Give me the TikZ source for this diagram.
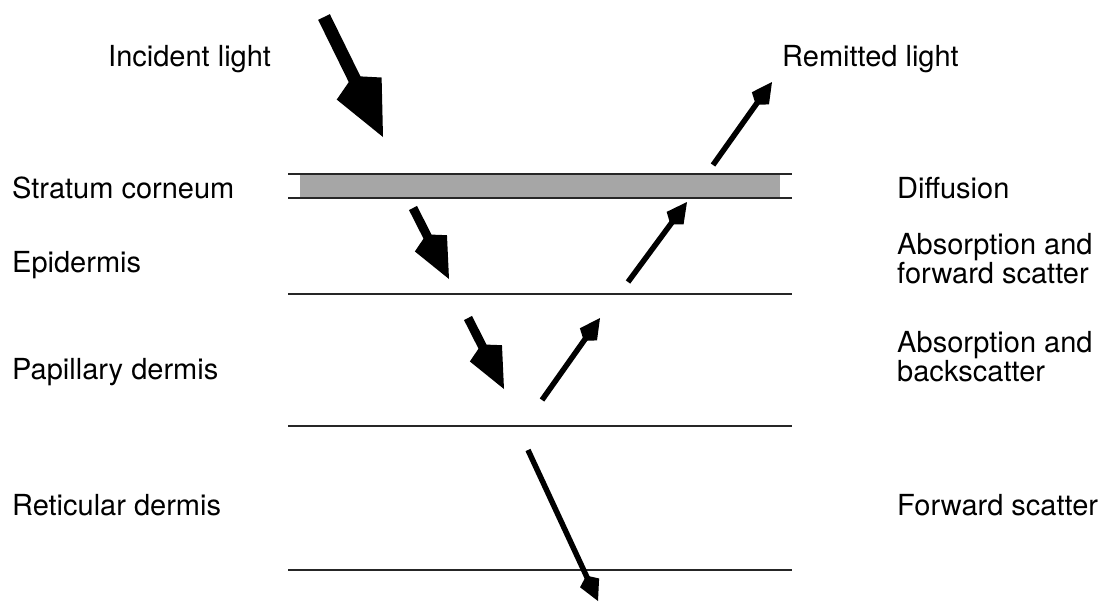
\documentclass[tikz,border=0pt]{standalone}
\usepackage{fontspec}
\setmainfont{TeX Gyre Heros}
\usetikzlibrary{arrows.meta}
\begin{document}
\begin{tikzpicture}[x=1pt, y=-1pt,
                    label_style/.style={anchor=base west, inner sep=0pt, align=left,
                                        font=\fontsize{29}{26}\selectfont},
                    layer_style/.style={draw=black!85, line width=2pt},
                    ray_big/.style={line width=13pt, -{Kite[length=68pt, width=50pt, inset=14pt]}},
                    ray_mid/.style={line width=9pt, -{Kite[length=50pt, width=36pt, inset=10pt]}},
                    ray_small/.style={line width=5.5pt, -{Kite[length=28pt, width=21pt, inset=8pt]}}]
                    \useasboundingbox (0,0) rectangle (1104,603);
                    % layer labels
                    \node[label_style] (incident) at (108, 66) {Incident light};
                    \node[label_style] (remitted) at (782, 66) {Remitted light};
                    \node[label_style] (corneum) at (12, 198) {Stratum corneum};
                    \node[label_style] (epidermis) at (12, 272) {Epidermis};
                    \node[label_style] (papillary) at (12, 379) {Papillary dermis};
                    \node[label_style] (reticular) at (12, 515) {Reticular dermis};
                    \node[label_style] (diffusion) at (897, 198) {Diffusion};
                    \node[label_style] (forward) at (897, 283) {Absorption and\\forward scatter};
                    \node[label_style] (back) at (897, 381) {Absorption and\\backscatter};
                    \node[label_style] (scatter) at (897, 515) {Forward scatter};
                    % layers
                    \node[fill=black!35, inner sep=0pt, minimum width=480pt, minimum height=23pt] (corneum_band) at (540, 186) {};
                    \coordinate (c1) at (288, 174);
                    \coordinate (c2) at (792, 174);
                    \coordinate (c3) at (288, 198);
                    \coordinate (c4) at (792, 198);
                    \coordinate (e1) at (288, 294);
                    \coordinate (e2) at (792, 294);
                    \coordinate (p1) at (288, 426);
                    \coordinate (p2) at (792, 426);
                    \coordinate (r1) at (288, 570);
                    \coordinate (r2) at (792, 570);
                    \draw[layer_style] (c1) -- (c2);
                    \draw[layer_style] (c3) -- (c4);
                    \draw[layer_style] (e1) -- (e2);
                    \draw[layer_style] (p1) -- (p2);
                    \draw[layer_style] (r1) -- (r2);
                    % light paths
                    \coordinate (in0) at (324, 17);
                    \coordinate (in1) at (383, 137);
                    \coordinate (in2) at (413, 208);
                    \coordinate (in3) at (449, 279);
                    \coordinate (in4) at (468, 318);
                    \coordinate (in5) at (504, 389);
                    \coordinate (out0) at (542, 400);
                    \coordinate (out1) at (600, 318);
                    \coordinate (out2) at (628, 282);
                    \coordinate (out3) at (687, 202);
                    \coordinate (out4) at (713, 165);
                    \coordinate (out5) at (772, 82);
                    \coordinate (deep0) at (528, 450);
                    \coordinate (deep1) at (598, 601);
                    \draw[ray_big] (in0) -- (in1);
                    \draw[ray_mid] (in2) -- (in3);
                    \draw[ray_mid] (in4) -- (in5);
                    \draw[ray_small] (out0) -- (out1);
                    \draw[ray_small] (out2) -- (out3);
                    \draw[ray_small] (out4) -- (out5);
                    \draw[ray_small] (deep0) -- (deep1);
                \end{tikzpicture}
\end{document}
